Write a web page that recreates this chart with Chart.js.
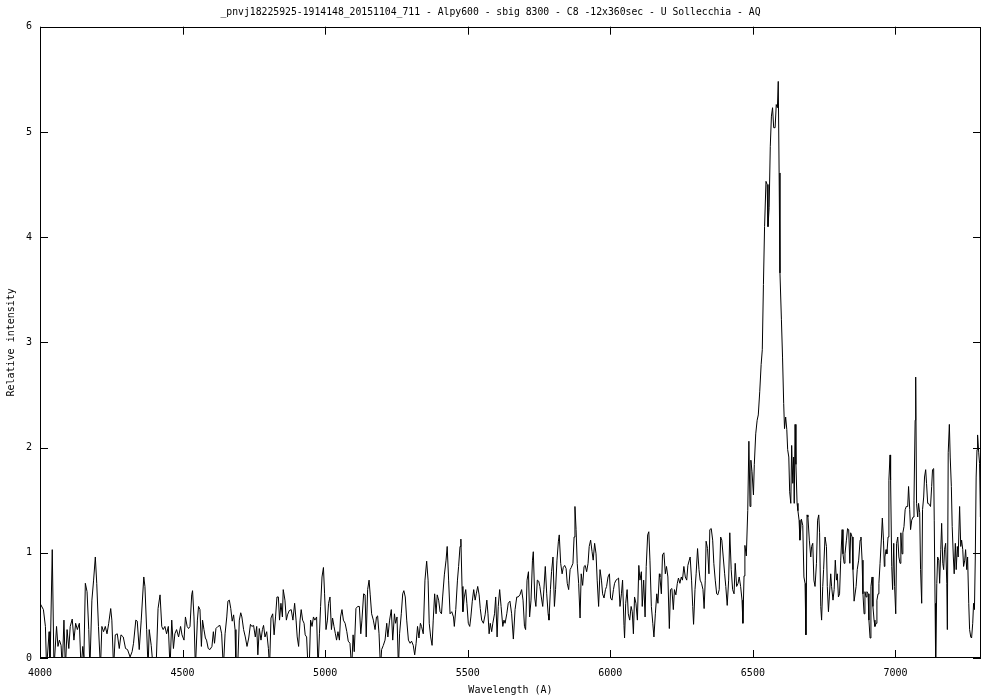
<!DOCTYPE html>
<html>
<head>
<meta charset="utf-8">
<script src="https://cdn.jsdelivr.net/npm/chart.js@4.4.1/dist/chart.umd.min.js"></script>
<style>
html,body{margin:0;padding:0;background:#fff;}
#wrap{width:1000px;height:700px;}
</style>
</head>
<body>
<div id="wrap"><canvas id="c" width="1000" height="700"></canvas></div>
<script>
const chartTitle = "_pnvj18225925-1914148_20151104_711 - Alpy600 - sbig 8300 - C8 -12x360sec - U Sollecchia - AQ";
const xLabel = "Wavelength (A)";
const yLabel = "Relative intensity";
const xRange = [4000, 7300];
const yRange = [0, 6];
const xTicks = [4000, 4500, 5000, 5500, 6000, 6500, 7000];
const yTicks = [0, 1, 2, 3, 4, 5, 6];

const wavelength = [
4000,4012,4019,4023,4032,4035,4043,4049,4058,4063,4068,4074,4078,4084,4089,4095,4101,4106,4113,4119,
4125,4131,4138,4144,4150,4154,4159,4165,4171,4175,4182,4188,4194,4199,4205,4212,4217,4223,4229,4235,
4241,4248,4252,4258,4264,4271,4278,4284,4292,4300,4307,4316,4323,4328,4336,4341,4348,4355,4364,4368,
4374,4379,4383,4390,4397,4407,4414,4421,4427,4432,4438,4444,4450,4456,4462,4468,4473,4479,4486,4493,
4498,4505,4510,4516,4521,
4526,4532,4535,4540,4545,4552,4556,4561,4566,4570,4575,4580,4584,4590,4596,4603,4608,4612,4617,4624,
4631,4637,4643,4649,4655,4659,4664,4669,4674,4679,4684,4687,4693,4699,4704,4708,4714,4720,4726,4732,
4738,4743,4749,4755,4760,4764,4769,4775,4780,4784,4789,4795,4801,4805,4810,4816,4821,4826,4831,4836,
4840,4845,4850,4853,4859,4864,4868,4874,4881,4887,4893,4898,4902,4907,4912,4916,4921,4926,4930,4935,
4940,4944,4949,4954,4959,4964,4970,4975,4980,4984,4989,4994,4998,5003,5008,5012,5017,5022,5026,5031,
5036,5040,5045,5050,5054,5059,5064,
5070,5076,5081,5087,5093,5098,5102,5108,5114,5120,5125,5129,5135,5140,5144,5149,5154,5158,5163,5169,
5175,5180,5184,5189,5194,5198,5204,5210,5216,5220,5226,5232,5237,5243,5247,5252,5257,5261,5267,5272,
5276,5281,5286,5292,5298,5303,5309,5314,5319,5324,5329,5334,5338,5344,5350,5356,5361,5365,5370,5375,
5379,5384,5389,5393,5398,5403,5408,5412,5418,5424,5428,5433,5438,5444,5450,5453,5458,5464,5468,5473,
5476,5480,5483,5488,5493,5497,5502,5507,5511,5516,5521,5526,5530,5535,5540,5544,5549,5555,5561,5567,
5571,5575,5579,5584,5588,5594,5598,5603,5607,5612,5617,5623,5627,
5631,5637,5642,5648,5654,5660,5666,5672,5677,5683,5689,5694,5699,5703,5708,5713,5717,5722,5727,5730,
5735,5739,5744,5749,5753,5758,5763,5767,5772,5777,5782,5785,5790,5794,5799,5804,5808,5813,5818,5821,
5826,5831,5835,5840,5845,5849,5854,5859,5863,5869,5873,5876,5880,5884,5889,5894,5898,5903,5908,5912,
5917,5922,5926,5931,5936,5940,5945,5950,5954,5959,5964,5969,5973,5978,5983,5987,5992,5997,6001,6006,
6011,6015,6020,6025,6029,6034,6039,6043,6048,6050,6054,6059,6063,6068,6073,6077,6081,6085,6090,6095,
6100,6104,6109,6112,6117,6122,6126,6131,6135,6139,6144,6149,6153,6158,6163,6167,6172,
6174,6179,6183,6188,6193,6197,6202,6207,6211,6216,6221,6225,6230,6235,6239,6244,6249,6253,6258,6263,
6268,6272,6277,6280,6285,6289,6292,6297,6301,6306,6311,6315,6320,6325,6329,6333,6336,6341,6346,6349,
6354,6359,6363,6368,6373,6377,6382,6387,6391,6396,6401,6405,6410,6415,6419,6424,6429,6434,6438,6443,
6448,6452,6457,6462,
6465,6469,6472,6477,6482,6486,6490,6493,6497,6502,6505,6510,6515,6519,6524,6529,6533,6537,6541,6546,
6550,6553,6557,6561,6565,6569,6573,6578,6582,6586,6589,6592,6595,6600,6604,6608,6611,6615,6619,6622,
6626,6629,6633,6636,6640,6643,6645,6648,6651,6655,6658,6662,
6665,6670,6675,6679,6683,6686,6690,6693,6698,6703,6706,6710,6714,6718,6723,6727,6731,6734,6738,6741,
6745,6748,6753,6758,6761,6765,6768,6773,6776,6781,6785,6789,6793,6796,6800,6804,6808,6813,6816,6820,
6823,6828,6832,6836,6840,6843,6848,6851,6855,6858,6862,6866,6871,6876,6879,6883,6886,6890,6893,6897,
6900,6904,6907,6911,6914,6918,6921,6925,6928,6932,6935,6939,6942,6946,6951,6954,6958,6961,
6963,6967,6970,6974,6977,6981,6983,6987,6990,6994,6997,7001,7004,7008,7012,7016,7019,7023,7026,7030,
7034,7038,7043,7046,7050,7053,7057,7062,7065,7069,7071,7074,7078,7081,7085,7088,7092,7095,7099,7102,
7106,7109,7113,7116,7120,7123,7127,7130,7134,7136,7139,7141,7145,7148,7152,7155,7159,7162,7166,7169,
7172,7176,7180,7182,7185,7189,7192,7196,7199,7203,7206,7210,7213,7217,7220,7225,7229,7232,7236,7239,
7243,7246,7250,7253,7257,7260,7264,7267,7271,7274,7277,7280,7283,7286,7288,7292,7295,7298,7300
];

const intensity = [
0.52,0.46,0.30,-0.1,0.25,-0.1,1.03,-0.1,0.30,0.11,0.17,0.12,-0.1,0.36,-0.1,0.27,0.09,0.30,0.37,0.17,
0.33,0.27,0.33,-0.1,0.11,0.01,0.71,0.63,0.27,-0.1,0.55,0.74,0.96,0.71,0.30,-0.1,0.30,0.25,0.30,0.23,
0.33,0.47,0.36,-0.1,0.22,0.23,0.09,0.22,0.20,0.09,0.08,0.01,0.06,0.14,0.36,0.35,0.08,0.36,0.77,0.68,
0.27,-0.1,0.27,0.12,-0.1,-0.1,0.47,0.60,0.30,0.27,0.30,0.23,0.30,-0.1,0.36,0.09,0.23,0.27,0.20,0.30,
0.22,0.17,0.39,0.30,0.28,
0.30,0.60,0.64,0.39,-0.1,0.36,0.49,0.46,0.11,0.36,0.27,0.19,0.17,0.09,0.08,0.11,0.25,0.14,0.28,0.30,
0.31,0.23,-0.1,0.23,0.39,0.54,0.55,0.47,0.35,0.41,0.27,-0.1,-0.1,0.36,0.43,0.39,0.27,0.20,0.11,0.19,
0.32,0.30,0.31,0.20,0.30,0.03,0.28,0.17,0.27,0.31,0.20,0.25,0.09,-0.1,0.38,0.42,0.22,0.39,0.58,0.58,
0.36,0.52,0.39,0.65,0.55,0.36,0.41,0.45,0.46,0.36,0.52,0.36,0.20,0.11,0.36,0.46,0.36,0.33,0.22,0.20,
-0.1,-0.1,0.36,0.30,0.39,0.36,0.39,-0.1,0.23,0.49,0.77,0.86,0.61,0.27,0.36,0.52,0.58,0.27,0.38,0.30,
0.23,0.17,0.25,0.17,0.39,0.46,0.36,
0.33,0.25,0.16,0.14,-0.1,0.22,0.06,0.47,0.49,0.49,0.23,0.36,0.61,0.60,0.20,0.65,0.74,0.60,0.42,0.36,
0.27,0.39,0.40,0.23,-0.1,0.08,0.12,0.17,0.33,0.20,0.36,0.46,0.17,0.42,0.33,0.39,-0.1,0.23,0.42,0.61,
0.64,0.58,0.36,0.17,0.14,0.16,0.12,0.03,0.14,0.30,0.19,0.33,0.30,0.23,0.74,0.92,0.74,0.33,0.20,0.12,
0.36,0.61,0.42,0.60,0.55,0.44,0.42,0.58,0.79,0.93,1.06,0.74,0.42,0.44,0.39,0.30,0.46,0.74,0.87,1.06,
1.13,0.68,0.44,0.58,0.65,0.52,0.33,0.30,0.39,0.54,0.65,0.55,0.61,0.68,0.60,0.47,0.36,0.33,0.41,0.55,
0.42,0.23,0.33,0.25,0.33,0.42,0.58,0.20,0.49,0.65,0.49,0.30,0.36,
0.33,0.42,0.52,0.54,0.42,0.18,0.46,0.58,0.58,0.60,0.65,0.55,0.30,0.27,0.74,0.82,0.39,0.55,0.93,1.01,
0.57,0.49,0.74,0.73,0.68,0.58,0.49,0.65,0.87,0.61,0.42,0.36,0.65,0.82,0.96,0.49,0.65,0.93,1.11,1.17,
0.90,0.80,0.86,0.88,0.85,0.71,0.65,0.84,0.86,0.90,1.15,1.44,1.22,0.90,0.71,0.38,0.80,0.69,0.87,0.88,
0.82,0.90,1.06,1.12,1.01,0.93,1.09,0.99,0.74,0.49,0.84,0.74,0.61,0.57,0.65,0.68,0.77,0.80,0.57,0.55,
0.65,0.71,0.74,0.75,0.76,0.49,0.61,0.74,0.31,0.19,0.52,0.65,0.42,0.36,0.49,0.44,0.23,0.58,0.52,0.36,
0.88,0.74,0.82,0.49,0.74,0.39,0.87,1.17,1.20,0.93,0.49,0.33,0.20,0.42,0.61,0.52,0.80,
0.77,0.61,0.98,1.00,0.80,0.87,0.77,0.28,0.65,0.66,0.46,0.65,0.60,0.71,0.76,0.71,0.77,0.74,0.87,0.77,
0.74,0.88,0.93,0.96,0.74,0.49,0.32,0.65,0.80,1.04,0.84,0.74,0.71,0.65,0.47,0.74,1.11,1.04,0.80,1.22,
1.23,1.12,0.90,0.74,0.61,0.60,0.65,1.15,1.12,0.96,0.80,0.68,0.50,0.74,1.19,0.84,0.65,0.61,0.90,0.68,
0.71,0.77,0.68,0.55,
0.33,0.78,1.07,0.97,1.40,2.06,1.44,1.88,1.77,1.55,1.84,2.13,2.26,2.31,2.53,2.79,2.93,3.55,4.10,4.53,
4.50,4.10,4.28,4.86,5.15,5.23,5.04,5.04,5.26,5.23,5.48,4.61,3.66,3.22,2.86,2.42,2.18,2.29,2.17,1.98,
1.91,1.58,1.47,2.02,1.66,1.91,1.47,2.22,1.84,1.47,1.40,1.31,
1.12,1.32,1.26,0.77,0.71,0.22,1.36,1.34,1.12,0.96,1.06,1.09,0.74,0.68,0.90,1.31,1.36,1.19,0.49,0.36,
0.68,0.84,1.15,1.06,0.68,0.44,0.58,0.80,0.68,0.55,0.65,0.93,0.74,0.80,0.58,0.61,0.93,1.22,0.99,0.90,
0.99,1.12,1.23,1.22,0.90,1.19,1.15,0.84,0.54,0.54,0.68,0.84,0.93,1.12,1.15,0.93,0.61,0.42,0.63,0.58,
0.63,0.61,0.36,0.19,0.68,0.77,0.49,0.36,0.30,0.33,0.55,0.61,0.71,0.90,1.15,1.33,1.12,0.87,
0.96,1.03,0.99,1.15,1.69,1.93,1.69,0.87,0.65,1.09,0.68,0.42,1.09,1.15,0.96,0.90,1.19,0.99,1.19,1.25,
1.41,1.44,1.44,1.63,1.41,1.22,1.31,1.34,1.50,2.26,2.67,1.47,1.34,1.47,1.38,0.84,0.52,1.41,1.53,1.72,
1.79,1.66,1.47,1.47,1.45,1.44,1.63,1.79,1.80,1.31,0.52,-0.05,0.71,0.96,0.93,0.71,1.03,1.28,0.90,0.84,
1.03,1.09,0.71,0.27,1.95,2.22,1.91,1.63,1.25,0.96,0.80,1.09,0.84,1.06,0.96,1.44,1.06,1.12,1.03,0.87,
0.93,1.03,0.84,0.96,0.52,0.27,0.20,0.19,0.33,0.52,0.46,0.96,1.72,1.98,2.12,1.95,1.85,1.34,1.79
];

const points = wavelength.map((w, i) => ({x: w, y: intensity[i]}));

const frameAndTicks = {
  id: 'frameAndTicks',
  afterDatasetsDraw(chart) {
    const {ctx, chartArea: a, scales: {x, y}} = chart;
    const L = 8;
    ctx.save();
    ctx.strokeStyle = '#000';
    ctx.lineWidth = 1;
    ctx.beginPath();
    x.ticks.forEach(t => {
      const px = Math.round(x.getPixelForValue(t.value)) + 0.5;
      ctx.moveTo(px, a.bottom); ctx.lineTo(px, a.bottom - L);
      ctx.moveTo(px, a.top); ctx.lineTo(px, a.top + L);
    });
    y.ticks.forEach(t => {
      const py = Math.round(y.getPixelForValue(t.value)) + 0.5;
      ctx.moveTo(a.left, py); ctx.lineTo(a.left + L, py);
      ctx.moveTo(a.right, py); ctx.lineTo(a.right - L, py);
    });
    ctx.stroke();
    ctx.strokeRect(Math.round(a.left) + 0.5, Math.round(a.top) + 0.5,
                   Math.round(a.right - a.left) - 1, Math.round(a.bottom - a.top) - 1);
    ctx.restore();
  }
};

const fontFam = "'DejaVu Sans Mono', 'Liberation Mono', monospace";

new Chart(document.getElementById('c'), {
  type: 'line',
  data: {
    datasets: [{
      data: points,
      borderColor: '#000',
      borderWidth: 1,
      pointRadius: 0,
      tension: 0,
      fill: false
    }]
  },
  options: {
    responsive: false,
    animation: false,
    parsing: false,
    layout: {padding: {top: 0, right: 19, bottom: 0, left: 0}},
    plugins: {
      legend: {display: false},
      tooltip: {enabled: false},
      title: {
        display: true,
        text: chartTitle,
        color: '#000',
        font: {family: fontFam, size: 9.75, weight: 'normal'},
        padding: {top: 7, bottom: 8}
      }
    },
    scales: {
      x: {
        type: 'linear',
        min: xRange[0],
        max: xRange[1],
        grid: {display: false, drawTicks: false},
        border: {display: false},
        afterBuildTicks(s) { s.ticks = xTicks.map(v => ({value: v})); },
        ticks: {
          color: '#000',
          padding: 9,
          maxRotation: 0,
          autoSkip: false,
          font: {family: fontFam, size: 10},
          callback: v => String(v)
        },
        title: {
          display: true,
          text: xLabel,
          color: '#000',
          font: {family: fontFam, size: 10},
          padding: {top: 0, bottom: 4}
        },
        afterFit(s) { s.height = 42; }
      },
      y: {
        type: 'linear',
        min: yRange[0],
        max: yRange[1],
        grid: {display: false, drawTicks: false},
        border: {display: false},
        afterBuildTicks(s) { s.ticks = yTicks.map(v => ({value: v})); },
        ticks: {
          color: '#000',
          padding: 8,
          autoSkip: false,
          font: {family: fontFam, size: 10},
          callback: v => String(v)
        },
        title: {
          display: true,
          text: yLabel,
          color: '#000',
          font: {family: fontFam, size: 10},
          padding: {top: 5, bottom: 0}
        },
        afterFit(s) { s.width = 40; }
      }
    }
  },
  plugins: [frameAndTicks]
});
</script>
</body>
</html>
